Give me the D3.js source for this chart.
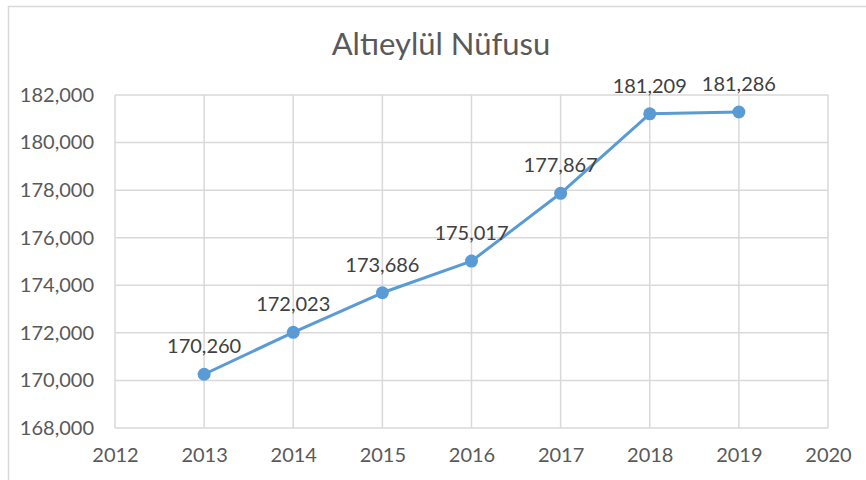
<!DOCTYPE html>
<html><head><meta charset="utf-8">
<script src="https://cdn.jsdelivr.net/npm/d3@7"></script>
<style>body{margin:0;background:#fff;} svg{display:block;}</style>
</head><body>
<svg id="c" width="866" height="480"></svg>
<script>
const title = "Altıeylül Nüfusu";
const years = [2013, 2014, 2015, 2016, 2017, 2018, 2019];
const population = [170260, 172023, 173686, 175017, 177867, 181209, 181286];
const xTicks = [2012, 2013, 2014, 2015, 2016, 2017, 2018, 2019, 2020];
const yTicks = [168000, 170000, 172000, 174000, 176000, 178000, 180000, 182000];

const svg = d3.select("#c");
const font = "Lato, 'Open Sans', sans-serif";
const txt = "#595959";
const grid = "#d9d9d9";

// chart border
svg.append("rect").attr("x", 8.5).attr("y", 6.5).attr("width", 870).attr("height", 490)
  .attr("fill", "#fff").attr("stroke", "#d9d9d9").attr("stroke-width", 1.5);

const x = d3.scaleLinear().domain([2012, 2020]).range([115, 828]);
const y = d3.scaleLinear().domain([168000, 182000]).range([428, 95]);

// gridlines
const g = svg.append("g");
g.selectAll("line.v").data(xTicks).join("line")
  .attr("x1", d => x(d)).attr("x2", d => x(d)).attr("y1", y(182000)).attr("y2", y(168000))
  .attr("stroke", grid).attr("stroke-width", 1.5);
g.selectAll("line.h").data(yTicks).join("line")
  .attr("x1", x(2012)).attr("x2", x(2020)).attr("y1", d => y(d)).attr("y2", d => y(d))
  .attr("stroke", grid).attr("stroke-width", 1.5);

// axes with d3 axis generators, lines hidden
const fmt = d3.format(",");
const yAxis = svg.append("g").attr("transform", `translate(${x(2012)},0)`)
  .call(d3.axisLeft(y).tickValues(yTicks).tickFormat(fmt).tickSize(0).tickPadding(21));
const xAxis = svg.append("g").attr("transform", `translate(0,${y(168000)})`)
  .call(d3.axisBottom(x).tickValues(xTicks).tickFormat(d3.format("d")).tickSize(0).tickPadding(20));
[yAxis, xAxis].forEach(a => {
  a.select(".domain").remove();
  a.selectAll("text").attr("fill", txt).style("font-family", font).style("font-size", "20px");
});
xAxis.selectAll("text").attr("dy", "0.68em");

// line
const data = years.map((yr, i) => ({yr, v: population[i]}));
svg.append("path").datum(data)
  .attr("fill", "none").attr("stroke", "#5b9bd5").attr("stroke-width", 3)
  .attr("stroke-linejoin", "round")
  .attr("d", d3.line().x(d => x(d.yr)).y(d => y(d.v)));
svg.selectAll("circle.pt").data(data).join("circle")
  .attr("cx", d => x(d.yr)).attr("cy", d => y(d.v)).attr("r", 6.5)
  .attr("fill", "#5b9bd5");

// data labels
svg.selectAll("text.lbl").data(data).join("text")
  .attr("x", d => x(d.yr)).attr("y", d => y(d.v) - 21)
  .attr("text-anchor", "middle").attr("fill", "#404040")
  .style("font-family", font).style("font-size", "20px")
  .text(d => fmt(d.v));

// title
svg.append("text").attr("x", 441).attr("y", 55).attr("text-anchor", "middle")
  .attr("fill", txt).style("font-family", font).style("font-size", "31px")
  .text(title);
</script>
</body></html>
